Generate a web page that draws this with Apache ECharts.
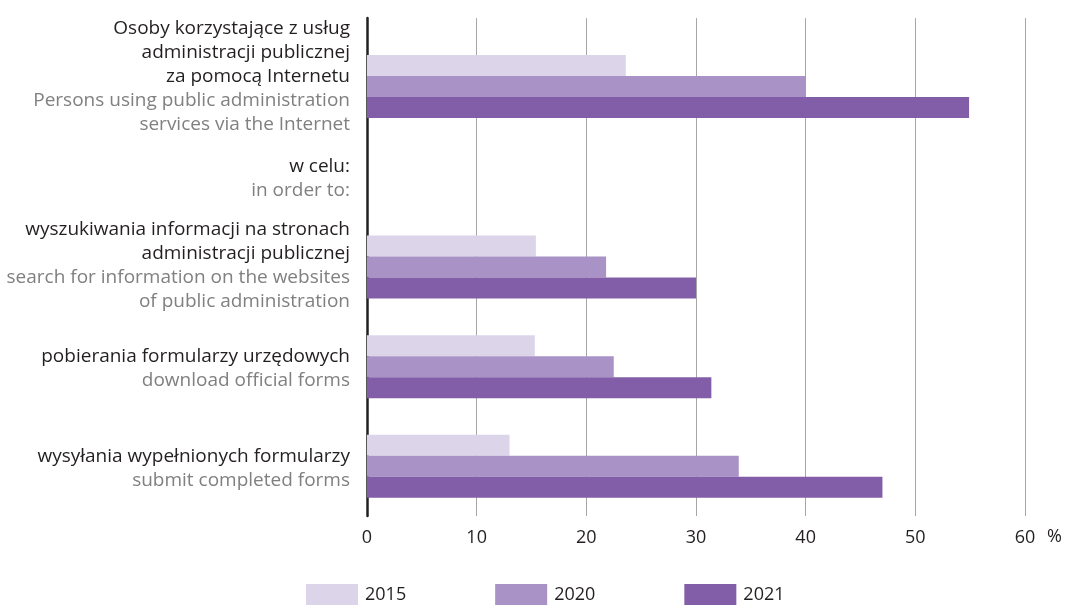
<!DOCTYPE html>
<html>
<head>
<meta charset="utf-8">
<script src="https://cdn.jsdelivr.net/npm/echarts@6/dist/echarts.min.js"></script>
<style>
  html, body { margin: 0; padding: 0; background: #ffffff; }
  #chart { width: 1067px; height: 605px; }
</style>
</head>
<body>
<div id="chart"></div>
<script>
// Category labels: Polish first, English translation below
const categoriesPl = [
  'Osoby korzystające z usług\nadministracji publicznej\nza pomocą Internetu',
  'w celu:',
  'wyszukiwania informacji na stronach\nadministracji publicznej',
  'pobierania formularzy urzędowych',
  'wysyłania wypełnionych formularzy'
];
const categoriesEn = [
  'Persons using public administration\nservices via the Internet',
  'in order to:',
  'search for information on the websites\nof public administration',
  'download official forms',
  'submit completed forms'
];

// Shares of persons (%), the "w celu:" row is a heading without values
const years = ['2015', '2020', '2021'];
const values2015 = [23.6, null, 15.4, 15.3, 13.0];
const values2020 = [40.0, null, 21.8, 22.5, 33.9];
const values2021 = [54.9, null, 30.0, 31.4, 47.0];

const xTicks = [0, 10, 20, 30, 40, 50, 60];

const colors = ['#dcd5ea', '#a892c6', '#825ea8'];
const seriesValues = [values2015, values2020, values2021];

// The headline row sits a bit lower than the regular band spacing,
// so it is drawn in its own small grid; labels get a small vertical nudge
// (positive moves a label down, negative moves it up).
const labelNudge = [17, 22, -2, 4, 4];

const FONT = '"Open Sans"';
const FS_CAT = 19;
const FS = 18;
const BAR_W = 21;

const yData = categoriesPl.map((pl, i) => {
  const n = labelNudge[i];
  return {
    value: String(i),
    textStyle: { padding: n >= 0 ? [n, 0, 0, 0] : [0, 0, -n, 0] }
  };
});

const series = [];
years.forEach((year, s) => {
  const vals = seriesValues[s];
  series.push({
    name: year,
    type: 'bar',
    xAxisIndex: 0,
    yAxisIndex: 0,
    barWidth: BAR_W,
    barGap: '0%',
    itemStyle: { color: colors[s] },
    data: vals.map((v, i) => (i === 0 || v === null) ? '-' : v)
  });
  series.push({
    name: year,
    type: 'bar',
    xAxisIndex: 1,
    yAxisIndex: 1,
    barWidth: BAR_W,
    barGap: '0%',
    itemStyle: { color: colors[s] },
    data: [vals[0]]
  });
});

const chart = echarts.init(document.getElementById('chart'), null, { renderer: 'canvas' });

chart.setOption({
  animation: false,
  color: colors,
  textStyle: { fontFamily: FONT },
  legend: {
    data: years,
    left: 306,
    top: 584,
    padding: 0,
    itemWidth: 52,
    itemHeight: 22,
    itemGap: 89,
    icon: 'rect',
    textStyle: { fontFamily: FONT, fontSize: FS, color: '#231f20', padding: [0, 0, 0, 2] }
  },
  grid: [
    { left: 367, right: 42, top: 12, height: 504 },
    { left: 367, right: 42, top: 36, height: 101 }
  ],
  xAxis: [
    {
      gridIndex: 0,
      type: 'value',
      min: 0,
      max: 60,
      interval: 10,
      axisLine: { show: false },
      axisTick: { show: false },
      splitLine: {
        show: true,
        lineStyle: { color: '#a6a6a6', width: 1 },
        showMinLine: false
      },
      axisLabel: {
        margin: 13,
        fontFamily: FONT,
        fontSize: FS,
        color: '#231f20',
        formatter: v => xTicks.indexOf(v) >= 0 ? String(v) : ''
      },
      name: '%',
      nameLocation: 'end',
      nameGap: 22,
      nameMoveOverlap: false,
      nameTextStyle: {
        fontFamily: FONT,
        fontSize: FS,
        color: '#231f20',
        align: 'left',
        verticalAlign: 'top',
        padding: [12, 0, 0, 0]
      }
    },
    {
      gridIndex: 1,
      type: 'value',
      min: 0,
      max: 60,
      interval: 10,
      show: false,
      splitLine: { show: false }
    }
  ],
  yAxis: [
    {
      gridIndex: 0,
      type: 'category',
      inverse: true,
      data: yData,
      axisLine: { show: true, lineStyle: { color: '#231f20', width: 2.5 } },
      axisTick: { show: false },
      splitLine: { show: false },
      axisLabel: {
        interval: 0,
        hideOverlap: false,
        margin: 17,
        align: 'right',
        lineHeight: 24,
        formatter: (v) => {
          const i = Number(v);
          return '{pl|' + categoriesPl[i] + '}\n{en|' + categoriesEn[i] + '}';
        },
        rich: {
          pl: { fontFamily: FONT, fontSize: FS_CAT, color: '#231f20', lineHeight: 24, align: 'right' },
          en: { fontFamily: FONT, fontSize: FS_CAT, color: '#808080', lineHeight: 24, align: 'right' }
        }
      }
    },
    {
      gridIndex: 1,
      type: 'category',
      inverse: true,
      data: ['0'],
      show: false
    }
  ],
  series: series
});
</script>
</body>
</html>
